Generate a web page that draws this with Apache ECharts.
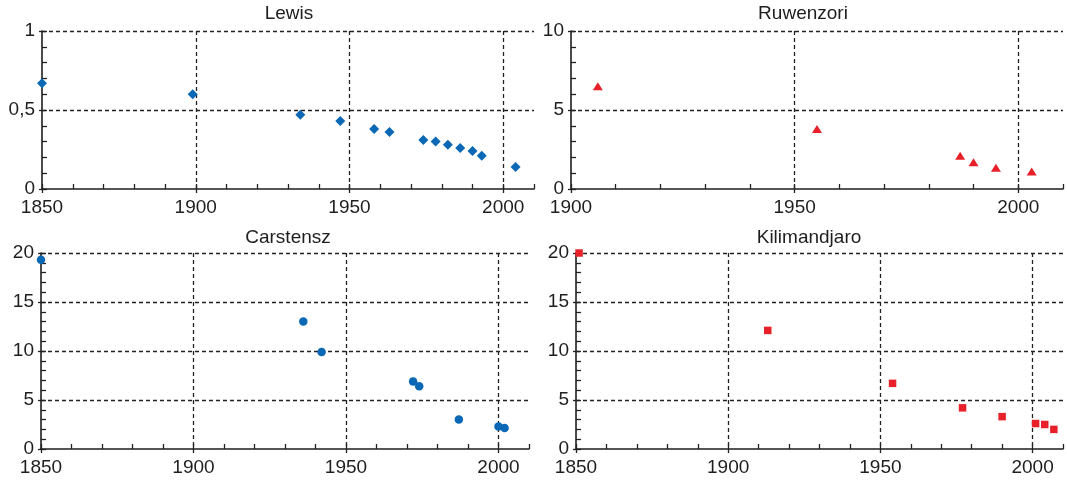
<!DOCTYPE html>
<html>
<head>
<meta charset="utf-8">
<script src="https://cdn.jsdelivr.net/npm/echarts@6/dist/echarts.min.js"></script>
<style>
html,body{margin:0;padding:0;background:#fff;}
#chart{width:1067px;height:484px;}
</style>
</head>
<body>
<div id="chart"></div>
<script>
// ---- Data ----
const lewisYears = [1850, 1899, 1934, 1947, 1958, 1963, 1974, 1978, 1982, 1986, 1990, 1993, 2004];
const lewisValues = [0.67, 0.60, 0.47, 0.43, 0.38, 0.36, 0.31, 0.30, 0.28, 0.26, 0.24, 0.21, 0.14];

const ruwenzoriYears = [1906, 1955, 1987, 1990, 1995, 2003];
const ruwenzoriValues = [6.5, 3.8, 2.1, 1.7, 1.35, 1.1];

const carstenszYears = [1850, 1936, 1942, 1972, 1974, 1987, 2000, 2002];
const carstenszValues = [19.3, 13.0, 9.9, 6.9, 6.4, 3.0, 2.3, 2.15];

const kiliYears = [1851, 1913, 1954, 1977, 1990, 2001, 2004, 2007];
const kiliValues = [20.0, 12.1, 6.7, 4.2, 3.3, 2.6, 2.5, 2.0];

const panelTitles = ['Lewis', 'Ruwenzori', 'Carstensz', 'Kilimandjaro'];

// ---- Layout / style ----
const FONT = '"Liberation Sans", Arial, sans-serif';
const TXT = '#1e1e1e';
const BLUE = '#0a68b4';
const RED = '#e8202a';

const panels = [
  {title: panelTitles[0], years: lewisYears, values: lewisValues, grid: {left: 42, top: 31, width: 492, height: 158},
   xmin: 1850, xmax: 2010, ymax: 1, yint: 0.5, yminor: 0.1, symbol: 'diamond', size: 10, color: BLUE, tx: 289, ty: 14},
  {title: panelTitles[1], years: ruwenzoriYears, values: ruwenzoriValues, grid: {left: 571, top: 31, width: 492, height: 158},
   xmin: 1900, xmax: 2010, ymax: 10, yint: 5, yminor: 1, symbol: 'triangle', size: [10, 8], color: RED, tx: 803, ty: 14},
  {title: panelTitles[2], years: carstenszYears, values: carstenszValues, grid: {left: 41, top: 253, width: 488, height: 196},
   xmin: 1850, xmax: 2010, ymax: 20, yint: 5, yminor: 1, symbol: 'circle', size: 8.5, color: BLUE, tx: 288, ty: 238},
  {title: panelTitles[3], years: kiliYears, values: kiliValues, grid: {left: 576, top: 253, width: 487, height: 196},
   xmin: 1850, xmax: 2010, ymax: 20, yint: 5, yminor: 1, symbol: 'rect', size: 7.5, color: RED, tx: 809, ty: 238}
];

const axisLineStyle = {color: '#1e1e1e', width: 1.6};
const gridLineStyle = {color: '#222', width: 1.3, type: [4, 3]};

const grids = [], xAxes = [], yAxes = [], series = [], graphics = [];
panels.forEach((p, i) => {
  grids.push(Object.assign({containLabel: false}, p.grid));
  // main x axis
  xAxes.push({
    type: 'value', gridIndex: i, position: 'bottom', min: p.xmin, max: p.xmax, interval: 50,
    axisLine: {show: true, onZero: false, lineStyle: axisLineStyle},
    axisTick: {show: true, inside: false, length: 4, lineStyle: {color: '#222', width: 1.3}},
    axisLabel: {show: true, showMaxLabel: false, fontSize: 19, fontFamily: FONT, color: TXT, margin: 9,
                formatter: v => String(v)},
    splitLine: {show: true, showMinLine: false, showMaxLine: false, lineStyle: gridLineStyle}
  });
  // minor x ticks (inside)
  xAxes.push({
    type: 'value', gridIndex: i, position: 'bottom', min: p.xmin, max: p.xmax, interval: 10,
    axisLine: {show: false, onZero: false},
    axisTick: {show: true, inside: true, length: 5, lineStyle: {color: '#222', width: 1.3}},
    axisLabel: {show: false}, splitLine: {show: false}
  });
  // main y axis
  yAxes.push({
    type: 'value', gridIndex: i, position: 'left', min: 0, max: p.ymax, interval: p.yint,
    axisLine: {show: true, onZero: false, lineStyle: axisLineStyle},
    axisTick: {show: true, inside: false, length: 3, lineStyle: {color: '#222', width: 1.3}},
    axisLabel: {show: true, fontSize: 19, fontFamily: FONT, color: TXT, margin: 7,
                formatter: v => String(v).replace('.', ',')},
    splitLine: {show: true, showMinLine: false, showMaxLine: true, lineStyle: gridLineStyle}
  });
  // minor y ticks (inside)
  yAxes.push({
    type: 'value', gridIndex: i, position: 'left', min: 0, max: p.ymax, interval: p.yminor,
    axisLine: {show: false, onZero: false},
    axisTick: {show: true, inside: true, length: 5, lineStyle: {color: '#222', width: 1.3}},
    axisLabel: {show: false}, splitLine: {show: false}
  });
  series.push({
    type: 'scatter', xAxisIndex: 2 * i, yAxisIndex: 2 * i,
    symbol: p.symbol, symbolSize: p.size,
    itemStyle: {color: p.color, opacity: 1},
    data: p.years.map((y, k) => [y, p.values[k]]),
    clip: false, z: 5
  });
  graphics.push({
    type: 'text', x: p.tx, y: p.ty,
    style: {text: p.title, fill: TXT, font: '19px ' + FONT, textAlign: 'center', textVerticalAlign: 'middle'}
  });
});

const chart = echarts.init(document.getElementById('chart'), null, {renderer: 'canvas'});
chart.setOption({
  animation: false,
  backgroundColor: '#fff',
  grid: grids,
  xAxis: xAxes,
  yAxis: yAxes,
  series: series,
  graphic: graphics
});
</script>
</body>
</html>
